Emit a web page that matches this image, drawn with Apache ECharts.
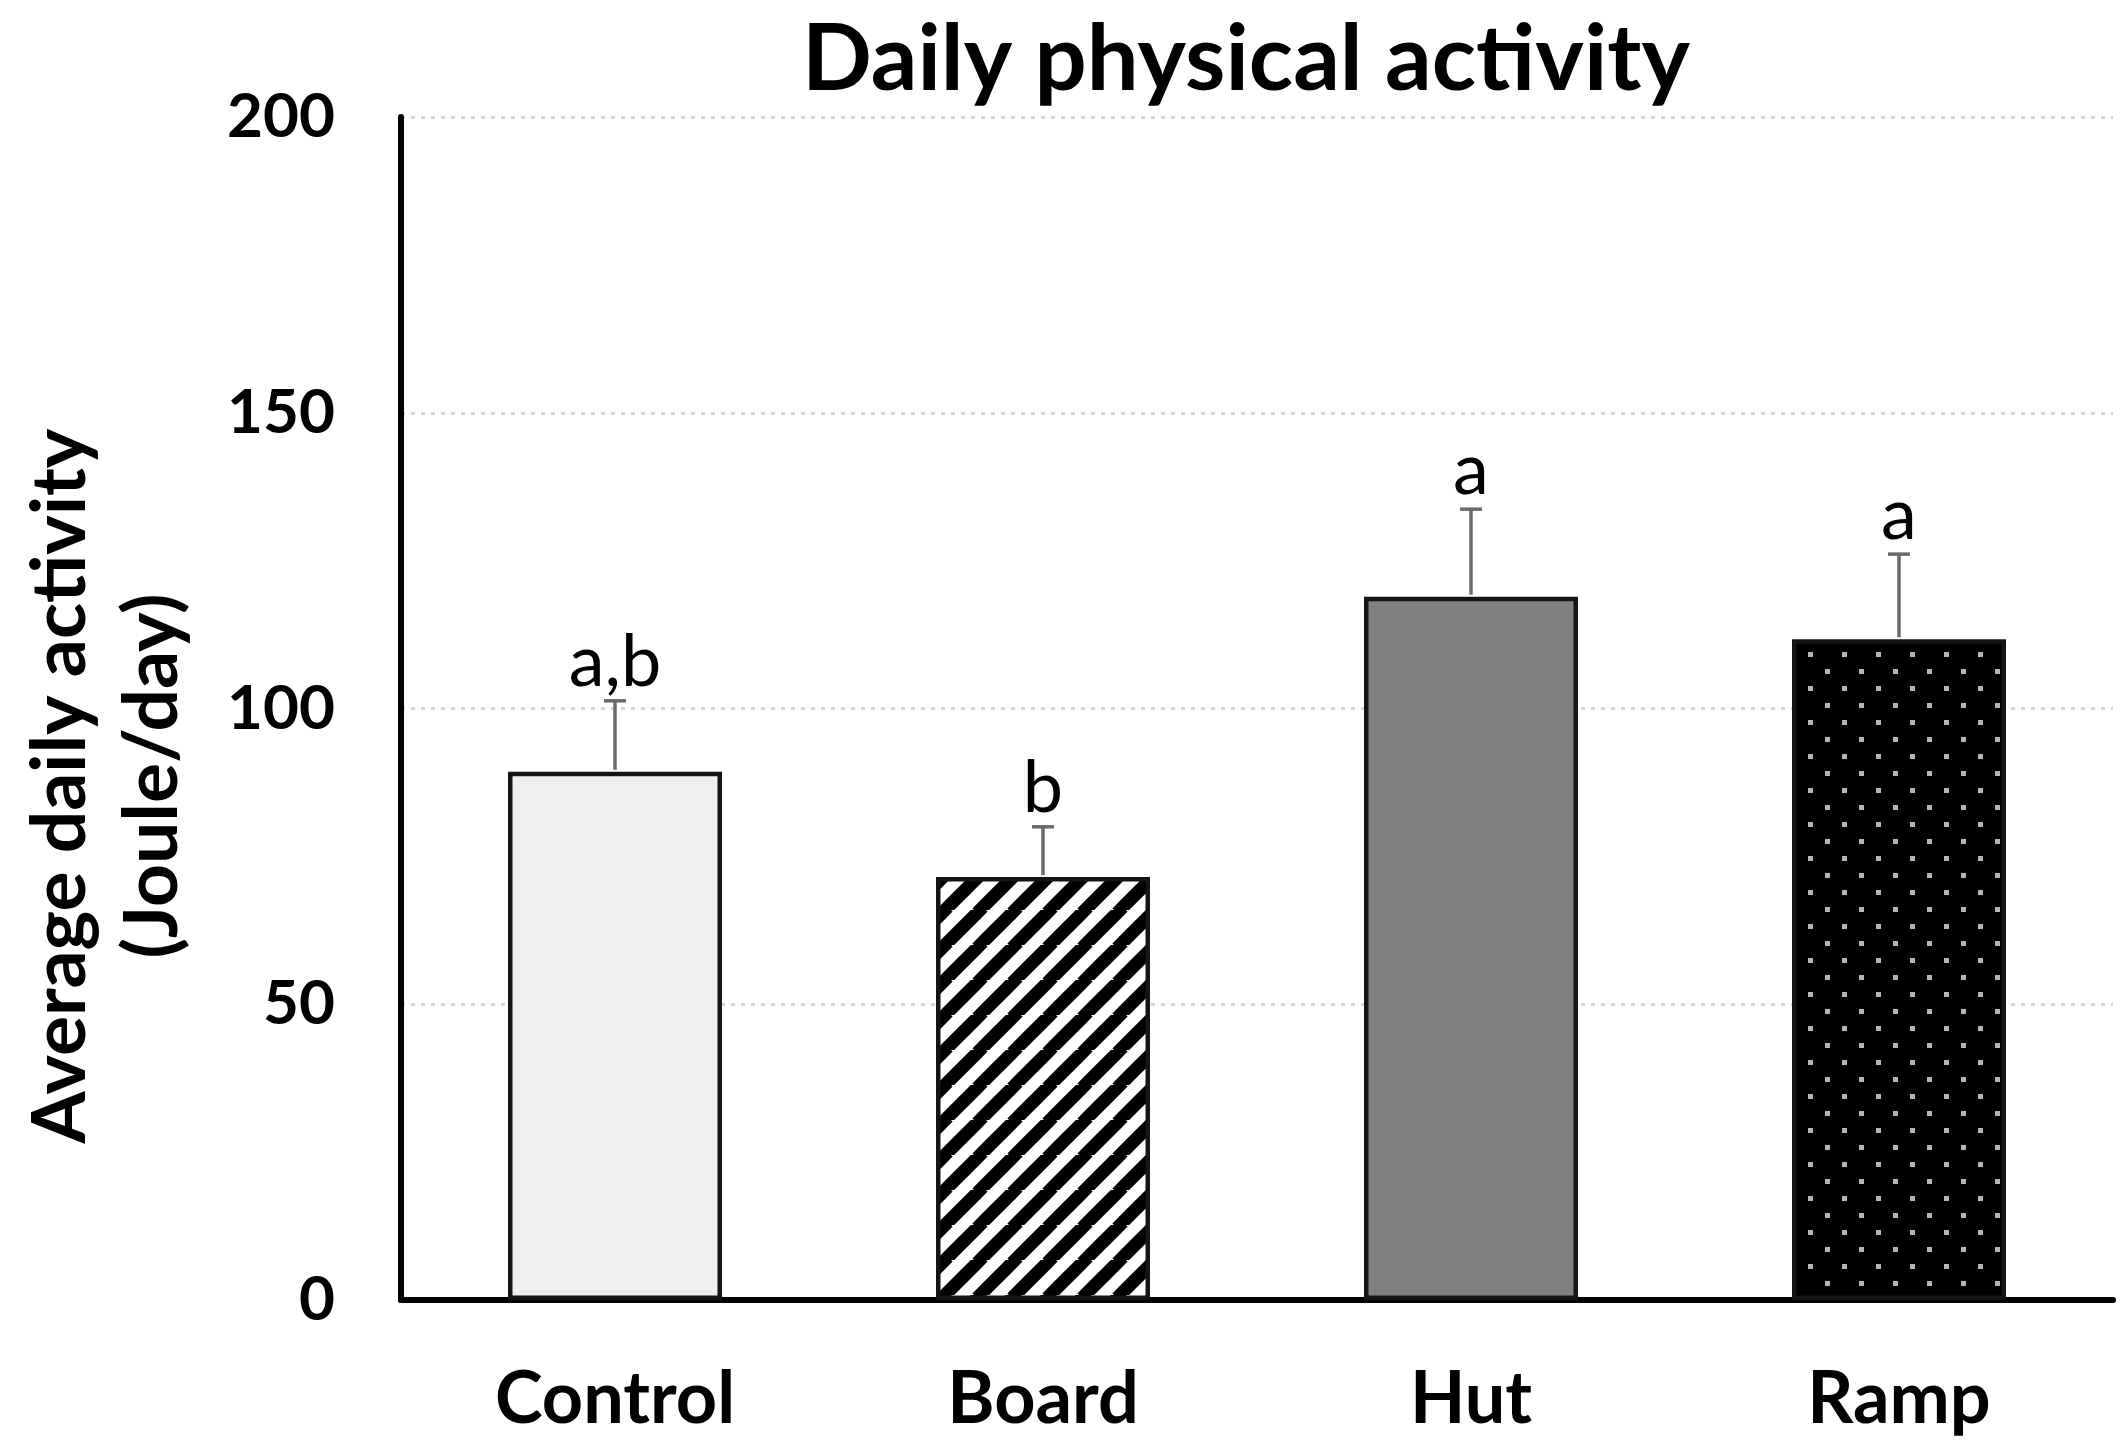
<!DOCTYPE html>
<html>
<head>
<meta charset="utf-8">
<script src="https://cdn.jsdelivr.net/npm/echarts@6/dist/echarts.min.js"></script>
<style>
html,body{margin:0;padding:0;background:#fff;}
#chart{width:2128px;height:1454px;}
</style>
</head>
<body>
<div id="chart"></div>
<script>
var categories = ['Control', 'Board', 'Hut', 'Ramp'];
var means = [89.3, 71.5, 118.9, 111.7];
var errors = [12.0, 8.5, 14.8, 14.4];
var letters = ['a,b', 'b', 'a', 'a'];
var yTicks = [0, 50, 100, 150, 200];

function stripeCanvas() {
  var s = 35, c = document.createElement('canvas');
  c.width = s; c.height = s;
  var g = c.getContext('2d');
  g.fillStyle = '#ffffff'; g.fillRect(0, 0, s, s);
  g.strokeStyle = '#000000'; g.lineWidth = 13;
  for (var k = -1; k <= 1; k++) {
    g.beginPath(); g.moveTo(k * s - 3, s + 3); g.lineTo(k * s + s + 3, -3); g.stroke();
  }
  return c;
}
function dotCanvas() {
  var s = 34, c = document.createElement('canvas');
  c.width = s; c.height = s;
  var g = c.getContext('2d');
  g.fillStyle = '#000000'; g.fillRect(0, 0, s, s);
  g.fillStyle = '#b4b4b4';
  g.fillRect(6, 6, 5, 5);
  g.fillRect(23, 23, 5, 5);
  return c;
}

var fills = [
  '#f0f0f0',
  { image: stripeCanvas(), repeat: 'repeat' },
  '#808080',
  { image: dotCanvas(), repeat: 'repeat' }
];

var barData = means.map(function (v, i) {
  return { value: v, itemStyle: { color: fills[i] } };
});
var errData = means.map(function (v, i) { return [i, v, errors[i]]; });

var chart = echarts.init(document.getElementById('chart'), null, { renderer: 'canvas' });
chart.setOption({
  backgroundColor: '#ffffff',
  animation: false,
  grid: { left: 401, right: 15, top: 117, bottom: 154, containLabel: false },
  graphic: [
    { type: 'text', x: 1246, y: 60,
      style: { text: 'Daily physical activity', align: 'center', verticalAlign: 'middle',
        font: 'bold 92px Lato', fill: '#000' } },
    { type: 'text', x: 61, y: 786, rotation: Math.PI / 2,
      style: { text: 'Average daily activity', align: 'center', verticalAlign: 'middle',
        font: 'bold 75px Lato', fill: '#000' } },
    { type: 'text', x: 153, y: 776, rotation: Math.PI / 2,
      style: { text: '(Joule/day)', align: 'center', verticalAlign: 'middle',
        font: 'bold 75px Lato', fill: '#000' } }
  ],
  xAxis: {
    type: 'category',
    data: categories,
    axisLine: { lineStyle: { color: '#000', width: 6 } },
    axisTick: { show: false },
    axisLabel: { margin: 64, fontFamily: 'Lato', fontWeight: 'bold', fontSize: 72, color: '#000' }
  },
  yAxis: {
    type: 'value',
    min: yTicks[0], max: yTicks[yTicks.length - 1], interval: 50,
    axisLine: { show: true, lineStyle: { color: '#000', width: 6 } },
    axisTick: { show: false },
    axisLabel: { margin: 66, fontFamily: 'Lato', fontWeight: 'bold', fontSize: 62, color: '#000' },
    splitLine: { show: true, lineStyle: { color: '#cfcfcf', width: 2.5, type: [4, 6] } }
  },
  series: [
    {
      type: 'bar',
      data: barData,
      barWidth: '50%',
      itemStyle: { borderColor: '#151515', borderWidth: 4.5 },
      z: 2
    },
    {
      type: 'custom',
      data: errData,
      z: 3,
      renderItem: function (params, api) {
        var i = api.value(0), m = api.value(1), e = api.value(2);
        var base = api.coord([i, m]);
        var top = api.coord([i, m + e]);
        var cw = 11;
        return {
          type: 'group',
          children: [
            { type: 'line', shape: { x1: base[0], y1: base[1] - 2, x2: top[0], y2: top[1] },
              style: { stroke: '#6a6a6a', lineWidth: 3.5 } },
            { type: 'line', shape: { x1: top[0] - cw, y1: top[1], x2: top[0] + cw, y2: top[1] },
              style: { stroke: '#6a6a6a', lineWidth: 3.5 } },
            { type: 'text', x: top[0], y: top[1] - 2,
              style: { text: letters[params.dataIndex], align: 'center', verticalAlign: 'bottom',
                font: '72px Lato', fill: '#000' } }
          ]
        };
      }
    }
  ]
});
</script>
</body>
</html>
